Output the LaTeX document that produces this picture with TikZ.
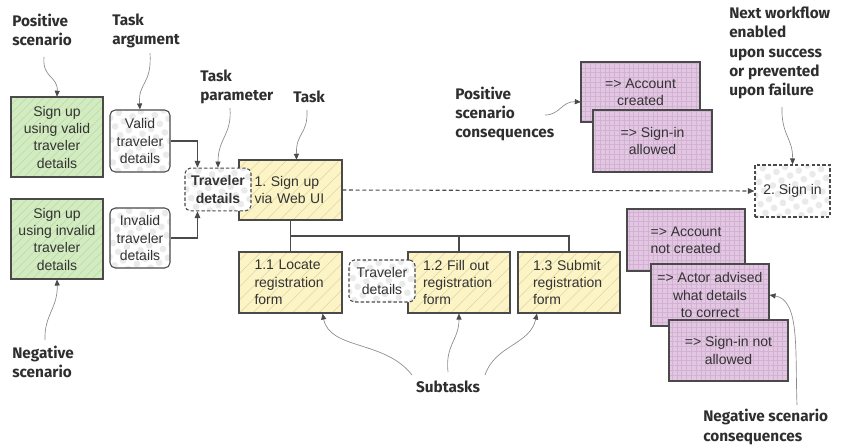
\documentclass[tikz,border=0pt]{standalone}
\usepackage{fontspec}
\setmainfont{Liberation Sans}
\newfontfamily\lblfont{Fira Sans}
\usetikzlibrary{patterns.meta,arrows.meta}
\definecolor{boxline}{HTML}{4A4A4A}
\definecolor{txt}{HTML}{333333}
\definecolor{lblc}{HTML}{2E2E2E}
\definecolor{greenfill}{HTML}{D3EBC0}
\definecolor{greenhatch}{HTML}{B8DAA4}
\definecolor{yellowfill}{HTML}{FCF4C4}
\definecolor{yellowhatch}{HTML}{DCD5A8}
\definecolor{purplefill}{HTML}{E2C6E2}
\definecolor{purplegrid}{HTML}{D2B2D2}
\definecolor{dotc}{HTML}{EAEAEA}
\definecolor{anncol}{HTML}{8A8A8A}
\frenchspacing
\begin{document}
\frenchspacing
\begin{tikzpicture}[x=0.75pt,y=-0.75pt,
  box/.style={draw=boxline, line width=0.8pt, text=txt, align=center, inner sep=2pt,
    font=\frenchspacing\fontsize{10.5}{13}\selectfont},
  greenbox/.style={box, preaction={fill=greenfill},
    pattern={Lines[angle=45,distance=4.5pt,line width=0.4pt]}, pattern color=greenhatch},
  yellowbox/.style={box, preaction={fill=yellowfill},
    pattern={Lines[angle=45,distance=7pt,line width=0.4pt]}, pattern color=yellowhatch},
  purplebox/.style={box, preaction={fill=purplefill},
    pattern={Hatch[angle=0,distance=3.6pt,line width=0.3pt]}, pattern color=purplegrid},
  dotbox/.style={box, rounded corners=4pt, preaction={fill=white},
    pattern={Dots[radius=2.5pt,distance=7.5pt,angle=30]}, pattern color=dotc},
  dashbox/.style={dotbox, dash pattern=on 2.5pt off 1.6pt},
  lbl/.style={inner sep=0pt, align=left, text=lblc,
    font=\lblfont\bfseries\fontsize{11.5}{14.5}\selectfont},
  ann/.style={draw=anncol, line width=0.5pt,
    -{Triangle[length=4.5pt,width=3.8pt,color=boxline]}},
  conn/.style={draw=boxline, line width=0.8pt,
    -{Triangle[length=5pt,width=4.2pt]}},
  tree/.style={draw=boxline, line width=0.8pt}
]
\useasboundingbox (0,0) rectangle (854,447);

% scenario boxes
\node[greenbox, minimum width=69pt, minimum height=60pt] (g1) at (57,137) {Sign up\\using valid\\traveler\\details};
\node[greenbox, minimum width=69pt, minimum height=60pt] (g2) at (57,239) {Sign up\\using invalid\\traveler\\details};

% task arguments
\node[dotbox, minimum width=45pt, minimum height=46.5pt] (va) at (140,141) {Valid\\traveler\\details};
\node[dotbox, minimum width=45pt, minimum height=45pt] (ia) at (140,238) {Invalid\\traveler\\details};

% task
\node[yellowbox, minimum width=77.25pt, minimum height=45pt, text width=54pt, align=left] (t1) at (290.5,190) {1. Sign up\\via Web UI};
\node[dashbox, minimum width=49.5pt, minimum height=32pt, font=\fontsize{10.5}{13}\selectfont\bfseries] (tp) at (218,189.5) {Traveler\\details};

% subtasks
\node[yellowbox, minimum width=77.25pt, minimum height=45.75pt, text width=54pt, align=left] (s11) at (290.5,282.5) {1.1 Locate\\registration\\form};
\node[yellowbox, minimum width=76.5pt, minimum height=45.75pt, text width=54pt, align=left] (s12) at (459,282.5) {1.2 Fill out\\registration\\form};
\node[yellowbox, minimum width=76.5pt, minimum height=45.75pt, text width=54pt, align=left] (s13) at (569,282.5) {1.3 Submit\\registration\\form};
\node[dashbox, minimum width=49.5pt, minimum height=31.5pt] (std) at (382,281) {Traveler\\details};

% next workflow
\node[dashbox, rounded corners=0pt, minimum width=56.25pt, minimum height=39pt] (sign) at (792.5,191) {2. Sign in};

% consequences
\node[purplebox, minimum width=89.25pt, minimum height=45pt] (ac) at (640.5,92) {=> Account\\created};
\node[purplebox, minimum width=89.25pt, minimum height=46.5pt] (sa) at (652.5,141) {=> Sign-in\\allowed};
\node[purplebox, minimum width=88.5pt, minimum height=46.5pt, align=left] (anc) at (686,240) {=> Account\\not created};
\node[purplebox, minimum width=88.5pt, minimum height=46.5pt] (aa) at (710,295) {=> Actor advised\\what details\\to correct};
\node[purplebox, minimum width=89.25pt, minimum height=45.75pt] (sna) at (728.5,350.5) {=> Sign-in not\\allowed};

% connectors
\draw[conn] (va.east) -| ([xshift=9.75pt]tp.north west);
\draw[conn] (ia.east) -| ([xshift=9.75pt]tp.south west);
\draw[conn, dash pattern=on 3pt off 2pt] (t1.east) -- (sign.west);
\coordinate (bus) at (290.5,236);
\draw[tree] (t1.south) -- (s11.north);
\draw[tree] (bus) -| (s12.north);
\draw[tree] (bus) -| (s13.north);

% labels
\node[lbl, anchor=west] (psl) at (12,30) {Positive\\scenario};
\node[lbl, anchor=west] (tal) at (112,31) {Task\\argument};
\node[lbl, anchor=west] (tpl) at (200,87) {Task\\parameter};
\node[lbl, anchor=west] (tkl) at (293,97) {Task};
\node[lbl, anchor=west] (pcl) at (455,114) {Positive\\scenario\\consequences};
\node[lbl, anchor=west] (nwl) at (729,53) {Next workflow\\enabled\\upon success\\or prevented\\upon failure};
\node[lbl, anchor=west] (nsl) at (12,362) {Negative\\scenario};
\node[lbl] (stl) at (448,387) {Subtasks};
\node[lbl, anchor=west] (ncl) at (703,427) {Negative scenario\\consequences};

% annotation arrows
\coordinate (a1) at (44,57);
\coordinate (a2) at (150,53);
\coordinate (a3) at (230,108);
\coordinate (a4) at (307,110);
\coordinate (a5) at (782,107);
\coordinate (a6) at (45,340);
\coordinate (a7) at (545,115);
\coordinate (a8) at (412,375);
\coordinate (a9) at (448,372);
\coordinate (a10) at (485,375);
\coordinate (a11) at (797,405);
\draw[ann] (a1) .. controls (42,78) and (58,76) .. (g1.north);
\draw[ann] (a2) .. controls (152,85) and (138,82) .. (va.north);
\draw[ann] (a3) .. controls (232,135) and (218,138) .. ([xshift=0pt]tp.north);
\draw[ann] (a4) .. controls (308,135) and (296,132) .. ([xshift=4.5pt]t1.north);
\draw[ann] (a5) .. controls (781,135) and (793,138) .. (sign.north);
\draw[ann] (a6) .. controls (44,315) and (58,308) .. (g2.south);
\draw[ann] (a7) .. controls (560,115) and (562,101) .. ([yshift=-7.5pt]ac.west);
\draw[ann] (a8) .. controls (385,340) and (330,350) .. ([xshift=24pt]s11.south);
\draw[ann] (a9) .. controls (445,345) and (459,340) .. (s12.south);
\draw[ann] (a10) .. controls (495,345) and (530,345) .. ([xshift=-24pt]s13.south);
\draw[ann] (a11) .. controls (795,350) and (800,300) .. ([yshift=0pt]aa.east);
\end{tikzpicture}
\end{document}
